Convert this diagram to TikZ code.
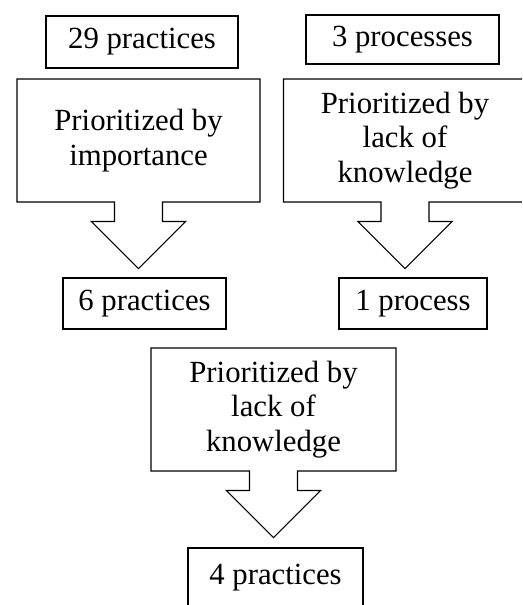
\documentclass[tikz,border=0pt]{standalone}
\usepackage{fontspec}
\setmainfont{Liberation Serif}
\usepackage{tikz}
\usetikzlibrary{positioning}
\usetikzlibrary{shapes.arrows}

\tikzset{
    countbox/.style={draw, line width=.6pt, inner sep=0pt, minimum height=1.02cm,
        font=\fontsize{17.5}{19.6}\selectfont},
    priobox/.style={draw, line width=.6pt, arrow box, align=center,
        minimum width=4.86cm, minimum height=2.46cm, inner sep=0pt,
        arrow box arrows={south:1.32cm}, arrow box shaft width=.96cm,
        arrow box head extend=.46cm, arrow box tip angle=90,
        font=\fontsize{17.5}{19.6}\selectfont},
}

\begin{document}
\begin{tikzpicture}
    \useasboundingbox (0,0) rectangle (10.44,12.10);
    \clip (0,0) rectangle (10.44,12.10);
    % top row
    \node[countbox, minimum width=3.84cm, minimum height=1.04cm] (prac29) at (2.84,11.26) {29 practices};
    \node[countbox, minimum width=3.86cm, minimum height=.98cm] (proc3) at (8.05,11.31) {3 processes};
    % first prioritisation
    \node[priobox] (byimp) at (2.77,9.29) {Prioritized by\\importance};
    \node[priobox] (bylackA) at (8.10,9.29) {Prioritized by\\lack of\\knowledge};
    % results
    \node[countbox, minimum width=3.26cm] (prac6) at (2.89,6.03) {6 practices};
    \node[countbox, minimum width=2.96cm] (proc1) at (8.26,6.03) {1 process};
    % second prioritisation
    \node[priobox, minimum width=4.90cm] (bylackB) at (5.47,3.91) {Prioritized by\\lack of\\knowledge};
    \node[countbox, minimum width=3.50cm, minimum height=1.2cm] (prac4) at (5.51,0.54) {4 practices};
\end{tikzpicture}
\end{document}
